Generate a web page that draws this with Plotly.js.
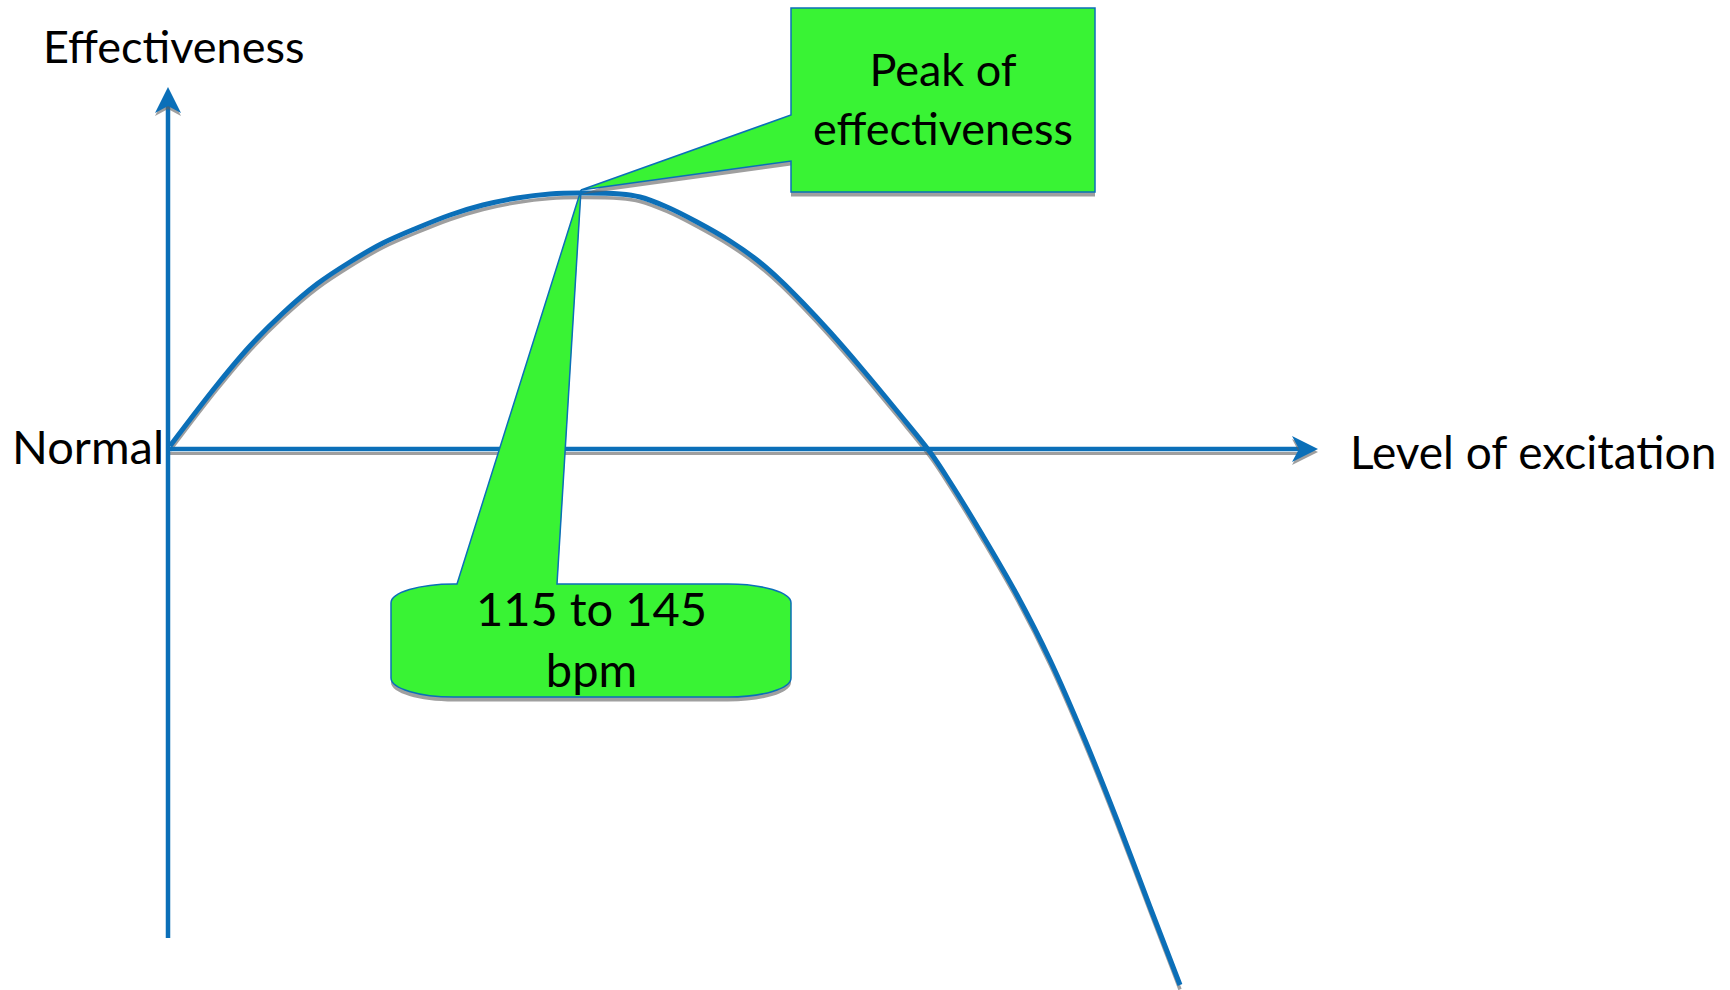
<!DOCTYPE html>
<html>
<head>
<meta charset="utf-8">
<script src="https://cdn.plot.ly/plotly-3.0.1.min.js"></script>
<style>
  html, body { margin: 0; padding: 0; background: #ffffff; }
  #chart { width: 1730px; height: 990px; }
</style>
</head>
<body>
<div id="chart"></div>
<script>
// Effectiveness relative to "normal" as the level of excitation rises
const excitation    = [0.02, 0.49, 0.82, 1.15, 1.49, 1.82, 2.15, 2.49, 2.82, 3.15, 3.49, 3.82, 4.12,
                       4.52, 4.72, 4.99, 5.29, 5.62, 5.89, 6.12, 6.35, 6.62, 6.95, 7.29, 7.62,
                       7.82, 8.15, 8.49, 8.82, 9.17, 9.49, 9.82, 10.12];
const effectiveness = [0.03, 0.64, 1.03, 1.36, 1.65, 1.87, 2.06, 2.21, 2.34, 2.44, 2.51, 2.55, 2.56,
                       2.55, 2.52, 2.42, 2.27, 2.08, 1.89, 1.69, 1.46, 1.17, 0.79, 0.38, -0.03,
                       -0.33, -0.87, -1.46, -2.11, -2.91, -3.71, -4.58, -5.36];

// Axis extents (excitation axis runs right, effectiveness axis runs up)
const xAxisEnd = [0, 11.50];
const yAxisEnd = [-4.89, 3.62];

// Labels
const yLabel = 'Effectiveness';
const originLabel = 'Normal';
const xLabel = 'Level of excitation';
const peakText = ['Peak of', 'effectiveness'];
const rangeText = ['115 to 145', 'bpm'];

const BLUE = '#0B6FB8';
const GREEN = '#39F334';
const SHADOW = 'rgba(95,95,95,0.6)';
const FONT = 'Lato, "Open Sans", sans-serif';

// peak of the curve: both callouts point here
let iPeak = 0;
effectiveness.forEach((v, i) => { if (v > effectiveness[iPeak]) iPeak = i; });
const tip = [excitation[iPeak] + 0.01, effectiveness[iPeak] + 0.03];

const shadowDy = 0.045;
const curveLine = { shape: 'spline', smoothing: 1 };
const traces = [
  // soft drop shadows
  { x: excitation, y: effectiveness.map(v => v - shadowDy), mode: 'lines',
    line: Object.assign({ color: SHADOW, width: 3.5 }, curveLine), hoverinfo: 'skip' },
  { x: [xAxisEnd[0], xAxisEnd[1] - 0.2], y: [-shadowDy, -shadowDy], mode: 'lines',
    line: { color: SHADOW, width: 3 }, hoverinfo: 'skip' },
  // axes
  { x: [0, 0], y: [yAxisEnd[0], yAxisEnd[1] - 0.18], mode: 'lines',
    line: { color: BLUE, width: 4.5 }, hoverinfo: 'skip' },
  { x: [xAxisEnd[0], xAxisEnd[1] - 0.18], y: [0, 0], mode: 'lines',
    line: { color: BLUE, width: 4.5 }, hoverinfo: 'skip' },
  // effectiveness curve
  { x: excitation, y: effectiveness, mode: 'lines',
    line: Object.assign({ color: BLUE, width: 5 }, curveLine), hoverinfo: 'skip' }
];

// path helpers
const pt = (x, y) => x.toFixed(3) + ',' + y.toFixed(3);

// barbed arrowhead pointing along (dx, dy) from the tip
function arrowHead(tx, ty, dx, dy) {
  const len = 0.26, half = 0.13, notch = 0.19;
  const px = -dy, py = dx;
  return 'M' + pt(tx, ty) +
    ' L' + pt(tx - dx * len + px * half, ty - dy * len + py * half) +
    ' L' + pt(tx - dx * notch, ty - dy * notch) +
    ' L' + pt(tx - dx * len - px * half, ty - dy * len - py * half) + ' Z';
}

// rectangular callout with a wedge tail coming out of its left side
function rectCallout(l, r, t, b, tailHi, tailLo, tp, dy) {
  return 'M' + pt(l, t - dy) + ' L' + pt(r, t - dy) + ' L' + pt(r, b - dy) + ' L' + pt(l, b - dy) +
         ' L' + pt(l, tailLo - dy) + ' L' + pt(tp[0], tp[1] - dy) + ' L' + pt(l, tailHi - dy) + ' Z';
}

// rounded callout (elliptical corners) with a wedge tail from its top edge
function roundCallout(l, r, t, b, rx, ry, tailL, tailR, tp, dy) {
  const k = 0.5523;
  t -= dy; b -= dy;
  return 'M' + pt(l + rx, t) +
    ' L' + pt(tailL, t) + ' L' + pt(tp[0], tp[1] - dy) + ' L' + pt(tailR, t) +
    ' L' + pt(r - rx, t) +
    ' C' + pt(r - rx + k * rx, t) + ' ' + pt(r, t - ry + k * ry) + ' ' + pt(r, t - ry) +
    ' L' + pt(r, b + ry) +
    ' C' + pt(r, b + ry - k * ry) + ' ' + pt(r - rx + k * rx, b) + ' ' + pt(r - rx, b) +
    ' L' + pt(l + rx, b) +
    ' C' + pt(l + rx - k * rx, b) + ' ' + pt(l, b + ry - k * ry) + ' ' + pt(l, b + ry) +
    ' L' + pt(l, t - ry) +
    ' C' + pt(l, t - ry + k * ry) + ' ' + pt(l + rx - k * rx, t) + ' ' + pt(l + rx, t) + ' Z';
}

const peakBox = { l: 6.23, r: 9.27, t: 4.41, b: 2.57, tailHi: 3.34, tailLo: 2.88 };
const rangeBox = { l: 2.23, r: 6.23, t: -1.35, b: -2.48, rx: 0.63, ry: 0.19, tailL: 2.89, tailR: 3.89 };

const shapes = [
  // arrowheads (with a faint shadow) at the ends of both axes
  { type: 'path', xref: 'x', yref: 'y', layer: 'above',
    path: arrowHead(xAxisEnd[1], -0.03, 1, 0), fillcolor: SHADOW, line: { width: 0 } },
  { type: 'path', xref: 'x', yref: 'y', layer: 'above',
    path: arrowHead(xAxisEnd[1], 0, 1, 0), fillcolor: BLUE, line: { width: 0 } },
  { type: 'path', xref: 'x', yref: 'y', layer: 'above',
    path: arrowHead(0, yAxisEnd[1] - 0.03, 0, 1), fillcolor: SHADOW, line: { width: 0 } },
  { type: 'path', xref: 'x', yref: 'y', layer: 'above',
    path: arrowHead(0, yAxisEnd[1], 0, 1), fillcolor: BLUE, line: { width: 0 } },
  // callouts
  { type: 'path', xref: 'x', yref: 'y', layer: 'above',
    path: rectCallout(peakBox.l, peakBox.r, peakBox.t, peakBox.b, peakBox.tailHi, peakBox.tailLo, tip, 0.045),
    fillcolor: SHADOW, line: { width: 0 } },
  { type: 'path', xref: 'x', yref: 'y', layer: 'above',
    path: rectCallout(peakBox.l, peakBox.r, peakBox.t, peakBox.b, peakBox.tailHi, peakBox.tailLo, tip, 0),
    fillcolor: GREEN, line: { color: BLUE, width: 1.5 } },
  { type: 'path', xref: 'x', yref: 'y', layer: 'above',
    path: roundCallout(rangeBox.l, rangeBox.r, rangeBox.t, rangeBox.b, rangeBox.rx, rangeBox.ry, rangeBox.tailL, rangeBox.tailR, tip, 0.045),
    fillcolor: SHADOW, line: { width: 0 } },
  { type: 'path', xref: 'x', yref: 'y', layer: 'above',
    path: roundCallout(rangeBox.l, rangeBox.r, rangeBox.t, rangeBox.b, rangeBox.rx, rangeBox.ry, rangeBox.tailL, rangeBox.tailR, tip, 0),
    fillcolor: GREEN, line: { color: BLUE, width: 1.5 } }
];

const txt = (size) => ({ family: FONT, size: size || 45, color: '#000000' });
const annotations = [
  // axis labels
  { x: -1.27, y: 4.03, xref: 'x', yref: 'y', xanchor: 'left', yanchor: 'middle',
    text: yLabel, showarrow: false, font: txt(45) },
  { x: -0.025, y: 0.03, xref: 'x', yref: 'y', xanchor: 'right', yanchor: 'middle',
    text: originLabel, showarrow: false, font: txt(47) },
  { x: 11.80, y: -0.02, xref: 'x', yref: 'y', xanchor: 'left', yanchor: 'middle',
    text: xLabel, showarrow: false, font: txt(46) },
  // callout texts
  { x: (peakBox.l + peakBox.r) / 2, y: 3.51, xref: 'x', yref: 'y', xanchor: 'center', yanchor: 'middle',
    text: peakText.join('<br>'), showarrow: false, font: txt(45) },
  { x: 4.23, y: -1.89, xref: 'x', yref: 'y', xanchor: 'center', yanchor: 'middle',
    text: rangeText.join('<br>'), showarrow: false, font: txt(47) }
];

const layout = {
  width: 1730, height: 990,
  margin: { l: 0, r: 0, t: 0, b: 0 },
  paper_bgcolor: '#ffffff', plot_bgcolor: '#ffffff',
  showlegend: false,
  xaxis: { range: [-1.68, 15.62], visible: false, fixedrange: true },
  yaxis: { range: [-5.41, 4.49], visible: false, fixedrange: true },
  shapes: shapes,
  annotations: annotations
};

Plotly.newPlot('chart', traces, layout, { displayModeBar: false, staticPlot: true });
</script>
</body>
</html>
